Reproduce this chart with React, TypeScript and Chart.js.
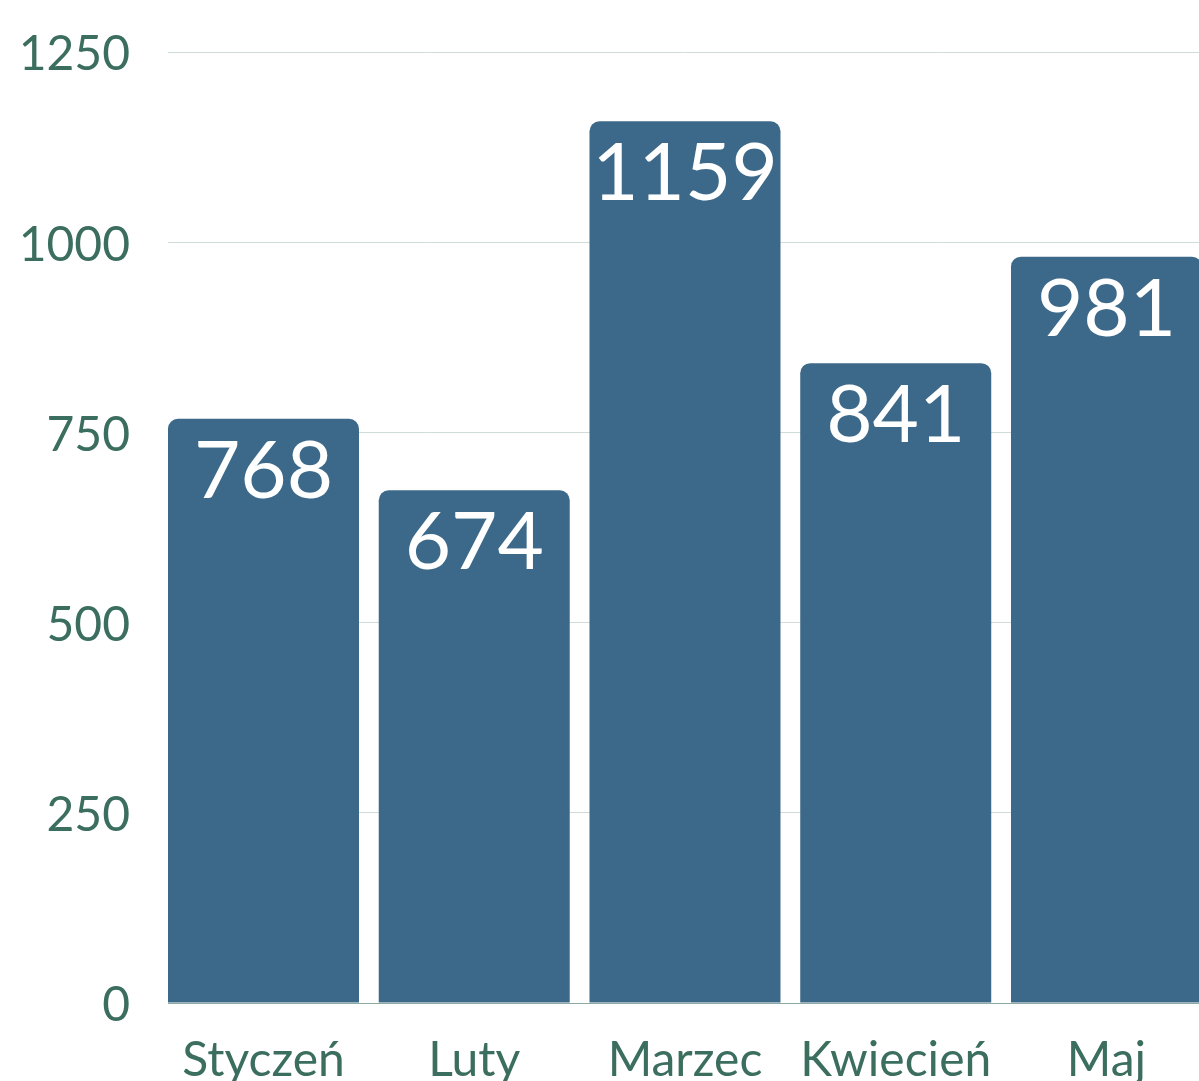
import React, { useEffect, useRef } from "react";
import { Chart, registerables } from "chart.js";

Chart.register(...registerables);

const categories = ["Styczeń", "Luty", "Marzec", "Kwiecień", "Maj"];
const values = [768, 674, 1159, 841, 981];
const yTicks = [0, 250, 500, 750, 1000, 1250];

const BAR_COLOR = "#3c6989";
const TEXT_COLOR = "#3b6e5f";
const GRID_COLOR = "#cfdcd7";
const AXIS_COLOR = "#8ea99f";
const FONT = "Lato";

const valueLabels = {
  id: "valueLabels",
  afterDatasetsDraw(chart: any) {
    const ctx = chart.ctx;
    const meta = chart.getDatasetMeta(0);
    ctx.save();
    ctx.fillStyle = "#ffffff";
    ctx.font = `80px ${FONT}`;
    ctx.textAlign = "center";
    ctx.textBaseline = "alphabetic";
    meta.data.forEach((el: any, i: number) => {
      ctx.fillText(String(values[i]), el.x, el.y + 79);
    });
    ctx.restore();
  },
};

export default function App() {
  const ref = useRef<HTMLCanvasElement | null>(null);
  useEffect(() => {
    if (!ref.current) return;
    const chart = new Chart(ref.current, {
      type: "bar",
      data: {
        datasets: [
          {
            data: values.map((v, i) => ({ x: i, y: v })),
            backgroundColor: BAR_COLOR,
            borderRadius: 10,
            borderSkipped: "start",
            barPercentage: 0.9063,
            categoryPercentage: 1,
          },
        ],
      },
      options: {
        animation: false,
        responsive: true,
        maintainAspectRatio: false,
        layout: { padding: { top: 52, left: 0, right: 0, bottom: 0 } },
        plugins: {
          legend: { display: false },
          tooltip: { enabled: false },
        },
        scales: {
          x: {
            type: "linear",
            offset: false,
            min: -0.4531,
            max: 4.439,
            grid: { display: true, drawOnChartArea: false, drawTicks: false, offset: false },
            border: { display: true, color: AXIS_COLOR, width: 1 },
            ticks: {
              stepSize: 1,
              includeBounds: false,
              autoSkip: false,
              maxRotation: 0,
              padding: 29,
              color: TEXT_COLOR,
              font: { family: FONT, size: 48 },
              callback: (v: any) => categories[v as number] ?? "",
            },
            afterFit: (scale: any) => {
              scale.height = 78;
            },
          },
          y: {
            min: yTicks[0],
            max: yTicks[yTicks.length - 1],
            grid: { color: GRID_COLOR, lineWidth: 1, drawTicks: false },
            border: { display: false },
            ticks: {
              stepSize: 250,
              padding: 38,
              labelOffset: 3,
              color: TEXT_COLOR,
              font: { family: FONT, size: 48 },
              callback: (v: any) => String(v),
            },
            afterFit: (scale: any) => {
              scale.width = 168;
              scale.paddingTop = 0;
              scale.paddingBottom = 0;
            },
          },
        },
      },
      plugins: [valueLabels],
    });
    return () => chart.destroy();
  }, []);

  return (
    <div style={{ position: "fixed", left: 0, top: 0, width: 1199, height: 1081 }}>
      <canvas ref={ref} />
    </div>
  );
}
